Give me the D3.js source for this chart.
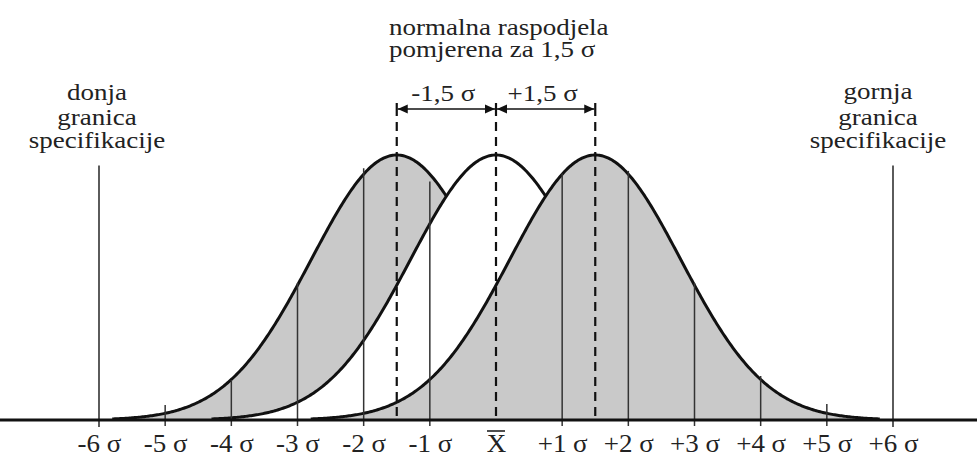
<!DOCTYPE html>
<html><head><meta charset="utf-8">
<script src="https://cdn.jsdelivr.net/npm/d3@7"></script>
<style>
html,body{margin:0;padding:0;background:#fff;}
svg{display:block;}
text{font-family:'Liberation Serif','Times New Roman',serif;fill:#222;}
</style></head>
<body>
<svg id="chart" width="977" height="457"></svg>
<script>
// ---- data ----
const axisTicks = [-6,-5,-4,-3,-2,-1,0,1,2,3,4,5,6];
const tickLabels = ["-6 σ","-5 σ","-4 σ","-3 σ","-2 σ","-1 σ","X","+1 σ","+2 σ","+3 σ","+4 σ","+5 σ","+6 σ"];
const curveMeans = [-1.5, 0, 1.5];          // in σ units (left shifted, centred, right shifted)
const curveSigma = 1.29;                     // width of each normal curve, in axis σ units
const curveHalfSpan = 4.3;                   // curves are drawn over mean ± this span
const sigmaLines = [-5,-4,-3,-2,-1,1,2,3,4,5];
const sigmaLineTops = [0.057,0.151,0.517,0.95,0.9,0.93,0.94,0.517,0.166,0.06]; // relative to peak
const specLimits = [-6, 6];
const specTop = 0.96;
const shiftMarks = [-1.5, 0, 1.5];
const shiftLabels = ["-1,5 σ", "+1,5 σ"];
const titleLines = ["normalna raspodjela", "pomjerena za 1,5 σ"];
const lowerSpecText = ["donja","granica","specifikacije"];
const upperSpecText = ["gornja","granica","specifikacije"];

// ---- drawing ----
const svg = d3.select("#chart");
const x = d3.scaleLinear().domain([-6,6]).range([99,893]);
const y = d3.scaleLinear().domain([0,1]).range([420,155]);
const SX = 1.2, FS = 22.5;
const AX_SX = 1.08, AX_FS = 25;

const density = (v, m) => Math.exp(-Math.pow((v - m)/curveSigma, 2)/2);

const area = d3.area().x(d => x(d[0])).y0(y(0)).y1(d => y(d[1]));
const line = d3.line().x(d => x(d[0])).y(d => y(d[1]));
const fills = ["#c9c9c9", "#ffffff", "#c9c9c9"];

curveMeans.forEach((m, i) => {
  const pts = d3.range(m - curveHalfSpan, m + curveHalfSpan + 1e-9, 0.02).map(v => [v, density(v, m)]);
  svg.append("path").attr("d", area(pts)).attr("fill", fills[i]).attr("stroke", "none");
  svg.append("path").attr("d", line(pts)).attr("fill", "none").attr("stroke", "#111").attr("stroke-width", 3);
});

// σ vertical lines
svg.selectAll("line.sig").data(sigmaLines).join("line").attr("class","sig")
  .attr("x1", d => x(d)).attr("x2", d => x(d))
  .attr("y1", (d,i) => y(sigmaLineTops[i])).attr("y2", y(0) + 6)
  .attr("stroke", "#333").attr("stroke-width", 1.5);

// specification limits
svg.selectAll("line.spec").data(specLimits).join("line").attr("class","spec")
  .attr("x1", d => x(d)).attr("x2", d => x(d))
  .attr("y1", y(specTop)).attr("y2", y(0) + 7)
  .attr("stroke", "#333").attr("stroke-width", 1.6);

// dashed mean lines
svg.selectAll("line.dash").data(shiftMarks).join("line").attr("class","dash")
  .attr("x1", d => x(d)).attr("x2", d => x(d))
  .attr("y1", 122).attr("y2", y(0))
  .attr("stroke", "#111").attr("stroke-width", 2.2).attr("stroke-dasharray", "9,6");

// baseline
svg.append("line").attr("x1", 0).attr("x2", 977).attr("y1", y(0)).attr("y2", y(0))
  .attr("stroke", "#111").attr("stroke-width", 3);

// axis labels
const axis = d3.axisBottom(x).tickValues(axisTicks).tickSize(0).tickPadding(0)
  .tickFormat((d,i) => tickLabels[i]);
const ax = svg.append("g").attr("transform", `translate(0,${y(0)})`).call(axis);
ax.select(".domain").remove();
ax.selectAll("text").attr("y", 32).attr("dy", null)
  .attr("font-size", AX_FS).attr("font-family", "'Liberation Serif',serif").attr("fill", "#222")
  .attr("transform", `scale(${AX_SX},1)`);
// overline for X̄
svg.append("line").attr("x1", x(0) - 9).attr("x2", x(0) + 9).attr("y1", 431).attr("y2", 431)
  .attr("stroke", "#222").attr("stroke-width", 1.6);

// shift arrows
const ay = 109;
svg.selectAll("line.bar").data(shiftMarks).join("line").attr("class","bar")
  .attr("x1", d => x(d)).attr("x2", d => x(d)).attr("y1", 103).attr("y2", 116)
  .attr("stroke", "#111").attr("stroke-width", 2.2);
for (let k = 0; k < shiftMarks.length - 1; k++) {
  const a = x(shiftMarks[k]) + 1, b = x(shiftMarks[k+1]) - 1;
  svg.append("line").attr("x1", a).attr("x2", b).attr("y1", ay).attr("y2", ay).attr("stroke", "#111").attr("stroke-width", 1.6);
  svg.append("path").attr("d", `M${a},${ay}L${a+10},${ay-4.5}L${a+10},${ay+4.5}Z`).attr("fill", "#111");
  svg.append("path").attr("d", `M${b},${ay}L${b-10},${ay-4.5}L${b-10},${ay+4.5}Z`).attr("fill", "#111");
  svg.append("text").attr("transform", `translate(${(a+b)/2 - 3},101) scale(${SX},1)`)
    .attr("text-anchor", "middle").attr("font-size", FS).text(shiftLabels[k]);
}

function stext(tx, ty, str, anchor) {
  svg.append("text").attr("transform", `translate(${tx},${ty}) scale(${SX},1)`)
    .attr("text-anchor", anchor).attr("font-size", FS).text(str);
}
stext(389, 35, titleLines[0], "start");
stext(389, 57, titleLines[1], "start");
[100,125,148].forEach((ty,i) => stext(x(specLimits[0]) - 2, ty, lowerSpecText[i], "middle"));
[99,125,148].forEach((ty,i) => stext(x(specLimits[1]) - 15, ty, upperSpecText[i], "middle"));
</script>
</body></html>
